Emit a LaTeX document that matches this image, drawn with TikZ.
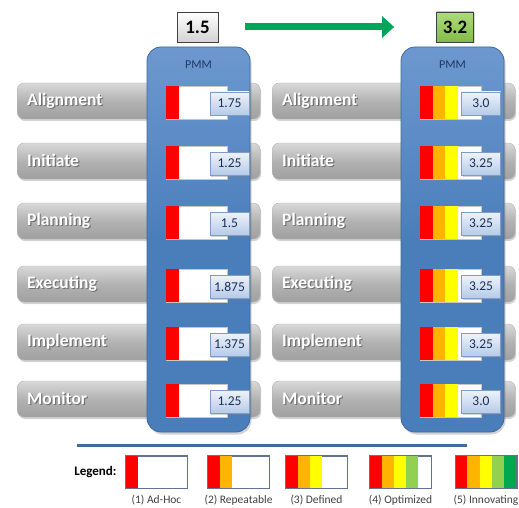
\documentclass[tikz,border=0pt]{standalone}
\usepackage{fontspec}
\setmainfont{Carlito}
\usetikzlibrary{shadows,arrows.meta}
\definecolor{lvred}{HTML}{FF0000}
\definecolor{lvorange}{HTML}{FFB400}
\definecolor{lvyellow}{HTML}{FFFF00}
\definecolor{lvlime}{HTML}{92D050}
\definecolor{lvgreen}{HTML}{00A850}
\definecolor{panelblue}{HTML}{4A7EBB}
\definecolor{panellight}{HTML}{6D98CF}
\definecolor{paneledge}{HTML}{3D6AA0}
\definecolor{navy}{HTML}{1F3864}
\definecolor{valtop}{HTML}{EEF3FA}
\definecolor{valbottom}{HTML}{B6CBE8}
\definecolor{valedge}{HTML}{7F9CC6}
\definecolor{arrowgreen}{HTML}{00A55A}
\newcommand{\shadowed}[1]{\makebox[0pt][l]{\hspace{1.2pt}\raisebox{-1.3pt}{\color{black!55}#1}}#1}
\begin{document}
\begin{tikzpicture}[x=1pt,y=-1pt,
  graybar/.style={rounded corners=7pt, minimum height=36pt, text width=223pt,
    inner xsep=10pt, align=left, top color=gray!30, bottom color=gray!75,
    middle color=gray!60, draw=gray!60, anchor=west,
    drop shadow={shadow xshift=1pt, shadow yshift=-2pt, opacity=0.35},
    text=white, font=\fontsize{17.5}{19}\selectfont\bfseries},
  panel/.style={rounded corners=14pt, minimum width=103pt, minimum height=385pt,
    top color=panellight, bottom color=panelblue, middle color=panelblue,
    draw=paneledge, line width=0.8pt,
    drop shadow={shadow xshift=1.5pt, shadow yshift=-2.5pt, opacity=0.35}},
  pmm/.style={text=navy, font=\fontsize{12}{14}\selectfont},
  meter/.style={minimum width=61pt, minimum height=33pt, inner sep=0pt,
    fill=white, draw=gray!45, line width=0.6pt},
  valbox/.style={minimum width=39pt, minimum height=23pt, inner sep=1.5pt,
    top color=valtop, bottom color=valbottom, draw=valedge,
    line width=0.6pt, text=navy!85!black,
    drop shadow={shadow xshift=1pt, shadow yshift=-1.5pt, opacity=0.35},
    font=\fontsize{13.5}{15}\selectfont},
  topbox/.style={minimum height=30pt, inner sep=3pt, draw=black!75,
    line width=0.7pt, font=\fontsize{19}{21}\selectfont\bfseries,
    drop shadow={shadow xshift=1pt, shadow yshift=-1.5pt, opacity=0.3}},
  legbox/.style={minimum width=61pt, minimum height=32pt, inner sep=0pt,
    fill=white, draw=navy!70, line width=0.7pt},
  leglabel/.style={text=black!75, font=\fontsize{11.5}{13}\selectfont}
]
\useasboundingbox (0,0) rectangle (519,508);

% process rows, left and right
\foreach \y/\name/\i in {101/Alignment/1, 161/Initiate/2, 221/Planning/3,
                         284/Executing/4, 342/Implement/5, 399/Monitor/6} {
  \node[graybar] (lbar\i) at (17,\y) {\shadowed{\name}};
  \node[graybar] (rbar\i) at (272,\y) {\shadowed{\name}};
}

% PMM panels
\node[panel] (lpanel) at (198.5,239.5) {};
\node[panel] (rpanel) at (452.5,239.5) {};
\node[pmm] (lpmm) at (198.5,65) {PMM};
\node[pmm] (rpmm) at (452.5,65) {PMM};

% scores
\node[topbox, top color=white, bottom color=gray!35, minimum width=41pt] (lscore) at (197.5,27) {1.5};
\node[topbox, top color=lvlime!75!white, bottom color=lvlime!90!black, minimum width=37pt] (rscore) at (455,27) {3.2};
\draw[arrowgreen, line width=7pt, shorten <=27pt, shorten >=42pt,
  -{Triangle[length=12pt, width=21pt]}] (lscore.east) -- (rscore.west);

% meters with values
\foreach \y/\lv/\rv/\i in {101/1.75/3.0/1, 161/1.25/3.25/2, 221/1.5/3.25/3,
                           284/1.875/3.25/4, 342/1.375/3.25/5, 399/1.25/3.0/6} {
  \node[meter] (lmeter\i) at (197,\y+2) {};
  \fill[lvred] (lmeter\i.north west) rectangle ++(12.5,33);
  \node[valbox] (lval\i) at (229.5,\y+2.5) {\lv};
  \node[meter] (rmeter\i) at (451,\y+2) {};
  \fill[lvred] (rmeter\i.north west) rectangle ++(12.5,33);
  \fill[lvorange] ([xshift=12.5pt]rmeter\i.north west) rectangle ++(12.5,33);
  \fill[lvyellow] ([xshift=25pt]rmeter\i.north west) rectangle ++(12.5,33);
  \node[valbox] (rval\i) at (481,\y+2.5) {\rv};
}

% divider
\draw[panelblue!85!black, line width=3pt] (77,445) -- (467,445);

% legend
\node[font=\fontsize{13}{15}\selectfont\bfseries, anchor=east] (legtitle) at (120,472) {Legend:};
\foreach \x/\n/\lab in {156.5/1/(1) Ad-Hoc, 238.5/2/(2) Repeatable, 316.5/3/(3) Defined,
                        400.5/4/(4) Optimized, 486/5/(5) Innovating} {
  \node[legbox] (leg\n) at (\x,472) {};
  \node[leglabel] (leglab\n) at (\x,500) {\lab};
}
\foreach \n in {1,...,5} {
  \foreach \k/\c in {0/lvred,1/lvorange,2/lvyellow,3/lvlime,4/lvgreen} {
    \pgfmathtruncatemacro{\show}{\k<\n ? 1 : 0}
    \ifnum\show=1
      \fill[\c] ([xshift=\k*12.2pt]leg\n.north west) rectangle ++(12.2,32);
    \fi
  }
  \draw[navy!70, line width=0.7pt] (leg\n.north west) rectangle (leg\n.south east);
}
\end{tikzpicture}
\end{document}
